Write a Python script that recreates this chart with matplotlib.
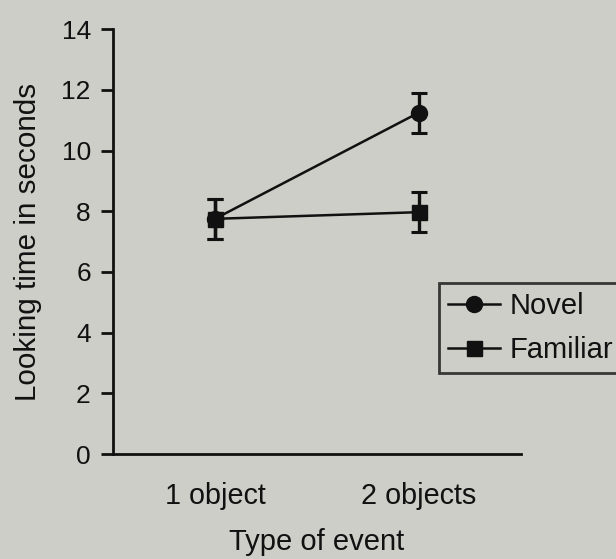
import numpy as np
import matplotlib
matplotlib.use('Agg')
import matplotlib.pyplot as plt

plt.rcParams['font.family'] = ['Liberation Sans', 'DejaVu Sans']

# data
events = ["1 object", "2 objects"]
novel_mean = [7.75, 11.25]
novel_err = [0.66, 0.66]
familiar_mean = [7.75, 7.97]
familiar_err = [0.66, 0.66]

bg = '#cdcec7'
ink = '#111111'

fig = plt.figure(figsize=(6.16, 5.59), dpi=100, facecolor=bg)
ax = fig.add_axes([0.1834, 0.1878, 0.662, 0.760], facecolor=bg)

x = np.arange(1, len(events) + 1)

err_kw = dict(ecolor=ink, elinewidth=2.4, capsize=6, capthick=2.2)
ax.errorbar(x, novel_mean, yerr=novel_err, color=ink, marker='o',
            markersize=11.5, linewidth=1.8, label="Novel", **err_kw)
ax.errorbar(x, familiar_mean, yerr=familiar_err, color=ink, marker='s',
            markersize=10.8, linewidth=1.8, label="Familiar", **err_kw)

ax.set_xlim(0.5, 2.5)
ax.set_ylim(0, 14)
ax.set_yticks(np.arange(0, 15, 2))
ax.set_xticks(x)
ax.set_xticklabels(events)

ax.spines['top'].set_visible(False)
ax.spines['right'].set_visible(False)
for s in ['left', 'bottom']:
    ax.spines[s].set_linewidth(2)
    ax.spines[s].set_color(ink)
    ax.spines[s].set_clip_on(False)

ax.tick_params(axis='y', length=9, width=2, color=ink, labelsize=19,
               labelcolor=ink, pad=7)
ax.tick_params(axis='x', length=0, labelsize=20.7, labelcolor=ink, pad=20)

ax.set_xlabel("Type of event", fontsize=21, color=ink, labelpad=13)
ax.set_ylabel("Looking time in seconds", fontsize=21.3, color=ink, labelpad=14)

# legend sits partly outside the figure, as in the reference
handles, labels = ax.get_legend_handles_labels()
handles = [h[0] for h in handles]
leg = fig.legend(handles, labels, loc='upper left',
                 bbox_to_anchor=(439 / 616, 1 - 283 / 559),
                 fontsize=21, frameon=True, fancybox=False,
                 handlelength=1.78, handletextpad=0.34, borderpad=0.3,
                 labelspacing=0.55, borderaxespad=0)
leg.get_frame().set_edgecolor(ink)
leg.get_frame().set_linewidth(2)
leg.get_frame().set_facecolor(bg)
for t in leg.get_texts():
    t.set_color(ink)

fig.savefig("out.png", dpi=100, facecolor=bg)
